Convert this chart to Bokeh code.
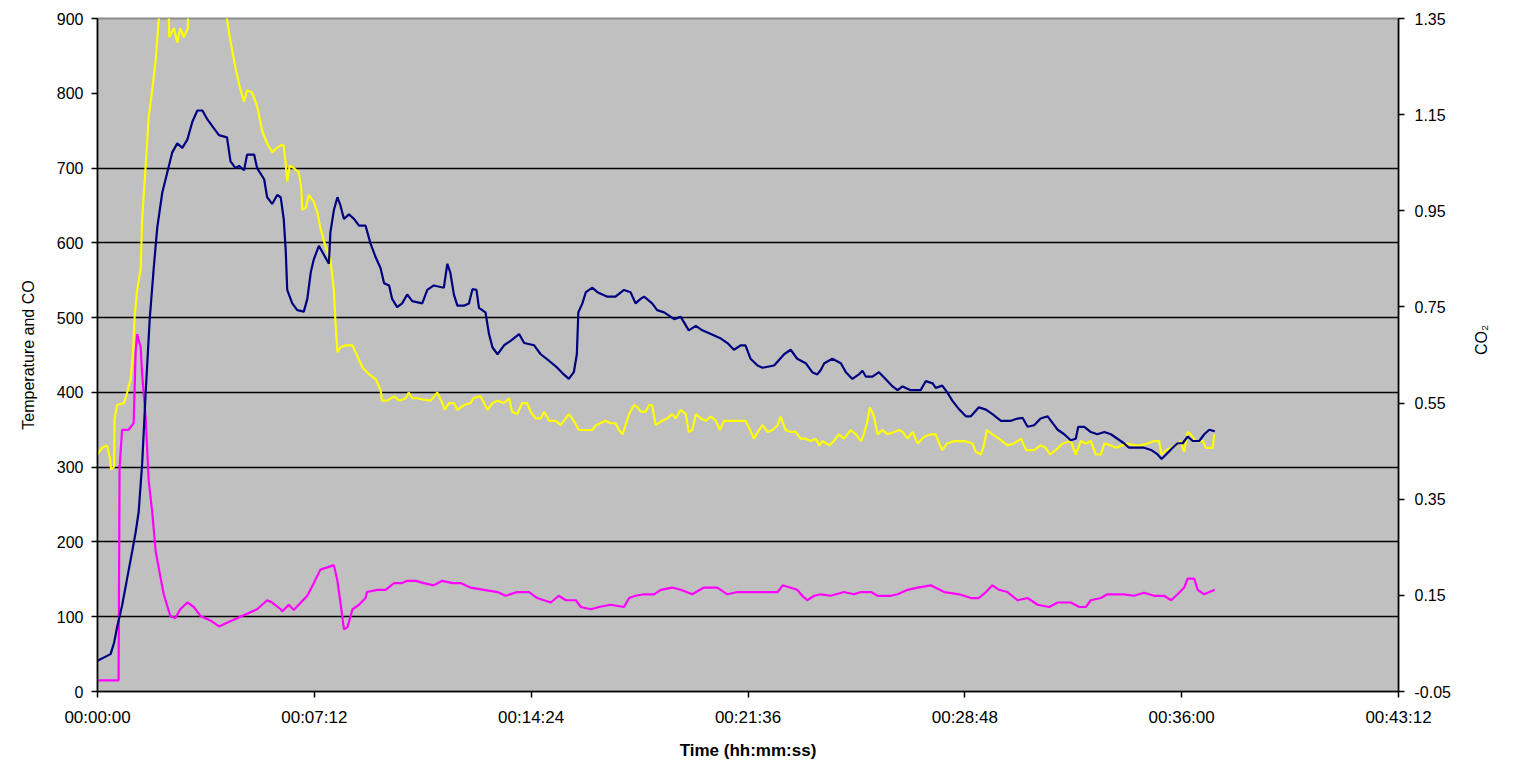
import math
from bokeh.plotting import figure
from bokeh.models import Range1d, LinearAxis, FixedTicker, PrintfTickFormatter
from bokeh.embed import file_html
from bokeh.resources import INLINE

# ---------------- data ----------------
# time in seconds
x_ticks = [0, 432, 864, 1296, 1728, 2160, 2592]
x_tick_labels = ["00:00:00", "00:07:12", "00:14:24", "00:21:36", "00:28:48", "00:36:00", "00:43:12"]
left_ticks = [0, 100, 200, 300, 400, 500, 600, 700, 800, 900]
right_ticks = [-0.05, 0.15, 0.35, 0.55, 0.75, 0.95, 1.15, 1.35]

temp_t = [0, 26, 33, 39, 49, 59, 69, 76, 82, 89, 96, 104, 112, 119, 129, 139, 149, 159, 169, 179,
          189, 199, 209, 219, 232, 242, 258, 265, 275, 282, 292, 298, 312, 318, 332, 338, 348, 358, 365,
          371, 375, 378, 388, 398, 411, 418, 425, 431, 441, 451, 461, 464, 471, 478, 484, 491, 501, 511,
          521, 534, 544, 554, 564, 571, 581, 587, 597, 607, 617, 627, 647, 657, 670, 690, 697, 703, 710, 717,
          730, 740, 747, 755, 760, 773, 780, 787, 797, 810, 823, 840, 850, 870, 883, 900, 916, 929, 939, 949,
          955, 958, 966, 973, 986, 996, 1016, 1032, 1049, 1062, 1072, 1082,
          1089, 1105, 1115, 1129, 1149, 1162, 1178, 1192, 1205, 1222, 1242, 1255, 1268, 1282, 1291, 1301,
          1315, 1325, 1348, 1368, 1381, 1394, 1411, 1424, 1434, 1441,
          1448, 1464, 1481, 1491, 1504, 1517, 1524, 1531, 1544, 1557, 1570, 1584, 1594, 1604, 1620, 1640,
          1650, 1664, 1670, 1683, 1693, 1703, 1717, 1730, 1740, 1756, 1770, 1783,
          1800, 1820, 1833, 1843, 1853, 1866, 1879, 1893, 1903, 1913, 1926, 1939, 1949, 1954, 1966, 1979,
          1992, 2006, 2019, 2032, 2045, 2055, 2072, 2085, 2099, 2112, 2120, 2129, 2142, 2152, 2162, 2172,
          2182, 2195, 2205, 2215, 2226]
temp_v = [41, 50, 65, 86, 115, 151, 187, 213, 240, 305, 400, 498, 566, 620, 667, 694, 721, 733, 727, 738,
          762, 777, 777, 765, 753, 744, 741, 709, 700, 703, 697, 718, 718, 700, 685, 661, 652, 664, 661,
          632, 590, 537, 519, 510, 508, 525, 561, 578, 596, 584, 572, 614, 644, 661, 650, 632, 638, 632,
          623, 623, 599, 581, 566, 546, 543, 525, 514, 519, 531, 522, 519, 537, 543, 540, 572, 560, 531, 516,
          516, 519, 538, 537, 513, 507, 478, 460, 451, 463, 469, 478, 466, 463, 451, 442, 433, 424, 418, 427,
          451, 507, 519, 534, 540, 534, 528, 528, 537, 534, 519, 525,
          528, 519, 510, 507, 498, 501, 483, 489, 483, 478, 472, 466, 457, 463, 463, 445,
          436, 433, 436, 451, 457, 445, 439, 427, 424, 430,
          439, 445, 439, 427, 418, 424, 429, 421, 421, 427, 418, 408, 403, 408, 403, 403,
          415, 412, 406, 409, 400, 389, 377, 368, 368, 380, 377, 371,
          362, 362, 365, 366, 354, 356, 365, 368, 359, 350, 344, 336, 338, 354, 354, 347,
          344, 347, 344, 338, 332, 326, 326, 326, 323, 317, 311, 317, 326, 332, 332, 341,
          335, 335, 344, 350, 348]

co2_t = [0, 9, 19, 25, 27, 33, 34, 39, 53, 59, 66, 71, 74, 79, 86, 89, 96, 102, 109, 116,
         122, 127, 140, 143, 152, 159, 165, 172, 180, 183, 255, 258, 265, 275, 285, 292, 298, 308, 318, 328,
         338, 348, 358, 365,
         371, 375, 378, 383, 391, 401, 406, 408, 415, 421, 431, 438, 444, 454, 464, 471, 474, 478, 484, 494,
         508, 518, 528, 541, 554, 564, 567, 577, 591, 601, 614, 620, 627, 637, 650, 664, 677, 687, 692, 700,
         710, 717,
         730, 743, 750, 763, 777, 787, 797, 810, 820, 826, 836, 846, 856, 863, 873, 883, 890, 900, 913, 923,
         929, 939, 949, 959, 973, 986, 993, 1002, 1012, 1022, 1032, 1039, 1046, 1052, 1059, 1069, 1076, 1082,
         1092, 1099, 1105, 1112, 1125, 1135, 1145, 1152, 1162, 1172, 1178, 1185, 1192, 1202, 1212, 1222,
         1232, 1240, 1248, 1275, 1291, 1298, 1308, 1318, 1325, 1335, 1345, 1355, 1361, 1371, 1381, 1391,
         1401, 1411, 1421, 1431, 1438,
         1444, 1458, 1467, 1477, 1487, 1501, 1511, 1521, 1527, 1533, 1539, 1547, 1554, 1564, 1574, 1587,
         1597, 1604, 1614, 1624, 1634, 1647, 1660, 1670, 1677, 1683, 1693, 1707, 1727, 1743, 1750, 1760,
         1766, 1772, 1783, 1796,
         1813, 1826, 1840, 1850, 1866, 1879, 1889, 1898, 1909, 1923, 1939, 1949, 1959, 1969, 1979, 1989,
         1999, 2006, 2019, 2029, 2042, 2052, 2065, 2079, 2092, 2105, 2115, 2120, 2129, 2139, 2148, 2158,
         2165, 2172, 2178, 2188, 2202, 2208, 2222, 2225]
co2_v = [0.443, 0.457, 0.462, 0.434, 0.412, 0.417, 0.518, 0.546, 0.550, 0.572, 0.600, 0.656, 0.729, 0.785,
         0.830, 0.933, 1.044, 1.145, 1.201, 1.264, 1.348, 1.45, 1.45, 1.311, 1.33, 1.300, 1.33, 1.311, 1.33,
         1.45, 1.45, 1.348, 1.303, 1.247, 1.201, 1.177, 1.201, 1.196, 1.168, 1.117, 1.090, 1.072, 1.081, 1.086,
         1.086, 1.048, 1.011, 1.044, 1.039, 1.030, 0.997, 0.952, 0.956, 0.983, 0.969, 0.947, 0.914, 0.877,
         0.849, 0.785, 0.720, 0.656, 0.666, 0.670, 0.670, 0.647, 0.624, 0.610, 0.600, 0.577, 0.555, 0.555,
         0.564, 0.555, 0.560, 0.572, 0.560, 0.560, 0.557, 0.555, 0.572, 0.550, 0.536, 0.550, 0.550, 0.536,
         0.546, 0.550, 0.561, 0.564, 0.536, 0.550, 0.555, 0.550, 0.560, 0.532, 0.527, 0.550, 0.550, 0.532,
         0.518, 0.518, 0.532, 0.513, 0.513, 0.504, 0.513, 0.527, 0.513, 0.494, 0.494, 0.494, 0.504, 0.508,
         0.513, 0.508, 0.508, 0.494, 0.485, 0.504, 0.527, 0.546, 0.541, 0.532,
         0.532, 0.546, 0.546, 0.504, 0.513, 0.518, 0.527, 0.518, 0.536, 0.527, 0.490, 0.494, 0.527, 0.518,
         0.513, 0.522, 0.513, 0.494, 0.513, 0.513, 0.513, 0.499, 0.476, 0.494, 0.504, 0.490, 0.494, 0.504,
         0.522, 0.494, 0.490, 0.490, 0.476, 0.476, 0.471, 0.476, 0.462,
         0.471, 0.462, 0.471, 0.485, 0.476, 0.494, 0.485, 0.471, 0.485, 0.508, 0.541, 0.522, 0.485, 0.494,
         0.485, 0.490, 0.494, 0.490, 0.476, 0.490, 0.466, 0.480, 0.485, 0.485, 0.466, 0.452, 0.466, 0.471,
         0.471, 0.466, 0.448, 0.443, 0.462, 0.494, 0.485, 0.476,
         0.462, 0.466, 0.476, 0.452, 0.452, 0.462, 0.457, 0.443, 0.452, 0.466, 0.471, 0.443, 0.471, 0.466,
         0.471, 0.443, 0.443, 0.466, 0.462, 0.457, 0.462, 0.466, 0.462, 0.462, 0.466, 0.471, 0.471, 0.443,
         0.452, 0.457, 0.462, 0.471, 0.448, 0.490, 0.485, 0.471, 0.471, 0.457, 0.457, 0.485]

co_t = [0, 42, 44, 49, 62, 72, 76, 79, 86, 89, 96, 102, 109, 116, 126, 132, 145, 155, 165, 179,
        192, 205, 225, 242, 258, 278, 298, 318, 338, 348, 365,
        368, 381, 391, 405, 418, 431, 444, 458, 471, 478, 484, 491, 498, 508, 521, 534, 537, 557, 574,
        591, 607, 617, 634, 650, 670, 687, 707,
        723, 743, 770, 797, 813, 836, 860, 876, 903, 919, 933, 953, 963, 983, 999, 1022, 1049, 1059, 1072,
        1089, 1109, 1122, 1145, 1162, 1185, 1208, 1235, 1255, 1275, 1301, 1335, 1355, 1365, 1394, 1404,
        1414, 1428, 1441,
        1461, 1487, 1507, 1521, 1541, 1554, 1580, 1594, 1614, 1634, 1660, 1687, 1717, 1740, 1756, 1770,
        1783, 1796,
        1813, 1833, 1853, 1873, 1896, 1913, 1939, 1956, 1969, 1979, 1999, 2012, 2045, 2065, 2085, 2105,
        2125, 2139, 2152, 2165, 2172, 2185, 2192, 2205, 2226]
co_v = [15, 15, 300, 350, 350, 359, 454, 478, 460, 424, 365, 282, 240, 187, 151, 130, 101, 98, 110, 119,
        113, 101, 95, 87, 92, 98, 104, 110, 122, 119, 110,
        107, 116, 109, 119, 128, 145, 163, 166, 169, 148, 119, 83, 86, 110, 116, 125, 133, 136, 136,
        145, 145, 148, 148, 145, 142, 148, 145,
        145, 139, 136, 133, 128, 133, 133, 125, 119, 128, 122, 122, 113, 110, 113, 116, 113, 125, 128,
        130, 130, 136, 139, 136, 130, 139, 139, 130, 133, 133, 133, 133, 142, 136, 128,
        122, 128, 130,
        128, 133, 130, 133, 133, 128, 128, 130, 136, 139, 142, 133, 130, 125, 125, 133,
        142, 136,
        133, 122, 125, 116, 113, 119, 119, 113, 113, 122, 125, 130, 130, 128, 132, 128,
        128, 122, 130, 139, 151, 151, 136, 130, 136]

FONT = "Liberation Sans"

p = figure(width=1506, height=762, output_backend="svg", toolbar_location=None,
           x_range=Range1d(0, 2592), y_range=Range1d(0, 900),
           min_border_left=97, min_border_right=108, min_border_top=18, min_border_bottom=70)
p.extra_y_ranges = {"co2": Range1d(-0.05, 1.35)}
p.background_fill_color = "#c0c0c0"
p.border_fill_color = "white"
p.outline_line_color = "#8c8c8c"
p.outline_line_width = 2

p.xgrid.visible = False
p.ygrid.ticker = FixedTicker(ticks=[100, 200, 300, 400, 500, 600, 700])
p.ygrid.grid_line_color = "black"
p.ygrid.grid_line_width = 1.5
p.ygrid.grid_line_alpha = 1.0

# lines
p.line(co2_t, co2_v, y_range_name="co2", line_color="#ffff00", line_width=2.2)
p.line(co_t, co_v, line_color="#ff00ff", line_width=2.2)
p.line(temp_t, temp_v, line_color="#000080", line_width=2.2)


def style_axis(ax, label_size, tick_size, label_standoff, tick_standoff, bold=False):
    ax.axis_label_text_font = FONT
    ax.axis_label_text_font_style = "bold" if bold else "normal"
    ax.axis_label_text_font_size = label_size
    ax.axis_label_text_color = "black"
    ax.axis_label_standoff = label_standoff
    ax.major_label_text_font = FONT
    ax.major_label_text_font_size = tick_size
    ax.major_label_text_color = "black"
    ax.major_label_standoff = tick_standoff
    ax.major_tick_in = 0
    ax.major_tick_out = 6
    ax.minor_tick_line_color = None
    ax.axis_line_color = "black"
    ax.axis_line_width = 1.5
    ax.major_tick_line_color = "black"
    ax.major_tick_line_width = 1.5


# x axis
xa = p.xaxis[0]
xa.ticker = FixedTicker(ticks=x_ticks)
xa.major_label_overrides = {t: l for t, l in zip(x_ticks, x_tick_labels)}
xa.axis_label = "Time (hh:mm:ss)"
style_axis(xa, "17px", "17px", 11, 10, bold=True)

# left axis
ya = p.yaxis[0]
ya.ticker = FixedTicker(ticks=left_ticks)
ya.axis_label = "Temperature and CO"
style_axis(ya, "16px", "16px", 17, 8)

# right axis
ra = LinearAxis(y_range_name="co2", ticker=FixedTicker(ticks=right_ticks),
                formatter=PrintfTickFormatter(format="%.2f"), axis_label="CO₂")
style_axis(ra, "16px", "16px", 28, 10)
try:
    ra.axis_label_orientation = math.pi / 2
except Exception:
    pass
p.add_layout(ra, "right")

open("out.html", "w").write(file_html(p, INLINE))
